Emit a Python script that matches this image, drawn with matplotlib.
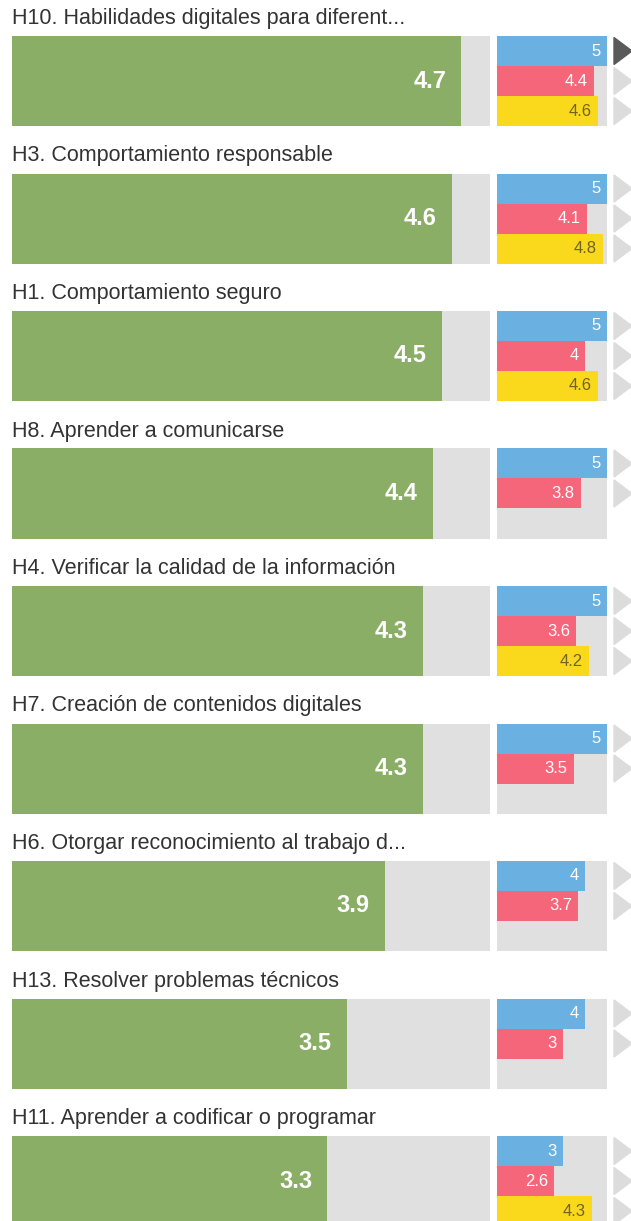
import numpy as np
import matplotlib
matplotlib.use("Agg")
import matplotlib.pyplot as plt
from matplotlib.patches import Polygon

# ---------------- datos ----------------
titles = [
    "H10. Habilidades digitales para diferent...",
    "H3. Comportamiento responsable",
    "H1. Comportamiento seguro",
    "H8. Aprender a comunicarse",
    "H4. Verificar la calidad de la información",
    "H7. Creación de contenidos digitales",
    "H6. Otorgar reconocimiento al trabajo d...",
    "H13. Resolver problemas técnicos",
    "H11. Aprender a codificar o programar",
]
main_vals = [4.7, 4.6, 4.5, 4.4, 4.3, 4.3, 3.9, 3.5, 3.3]
blue_vals = [5, 5, 5, 5, 5, 5, 4, 4, 3]
red_vals = [4.4, 4.1, 4, 3.8, 3.6, 3.5, 3.7, 3, 2.6]
yellow_vals = [4.6, 4.8, 4.6, None, 4.2, None, None, None, 4.3]

# ---------------- estilo ----------------
W, H = 631, 1221
GREEN = "#8aae65"
BLUE = "#6ab1e1"
RED = "#f5667a"
YELLOW = "#fad81c"
GREY = "#e0e0e0"
font = ["Liberation Sans", "DejaVu Sans"]

fig = plt.figure(figsize=(W / 100, H / 100), dpi=100)


def px_axes(x0, y0, w, h):
    # y0 medido desde arriba, en pixeles
    ax = fig.add_axes([x0 / W, 1 - (y0 + h) / H, w / W, h / H])
    ax.set_axis_off()
    return ax


def fmt(v):
    return f"{v:g}"


step = 137.5
for i, t in enumerate(titles):
    top = i * step
    fig.text(12 / W, 1 - (top + 18.5) / H, t, fontsize=15.5, family=font,
             color="#333333", va="center", ha="left")

    bar_top = top + 36
    # barra grande
    ax = px_axes(12, bar_top, 478, 90)
    ax.set_xlim(0, 5)
    ax.set_ylim(0, 1)
    ax.barh(0.5, 5, height=1, color=GREY, left=0)
    ax.barh(0.5, main_vals[i], height=1, color=GREEN)
    ax.annotate(fmt(main_vals[i]), (main_vals[i], 0.5), xytext=(-11, 0),
                textcoords="offset points", ha="right", va="center",
                color="white", fontsize=17, fontweight="bold", family=font)

    # barras pequeñas
    ax2 = px_axes(497, bar_top, 110, 90)
    ax2.set_xlim(0, 5)
    ax2.set_ylim(3, 0)
    ax2.barh(1.5, 5, height=3, color=GREY)
    rows = [(blue_vals[i], BLUE, "white"), (red_vals[i], RED, "white"),
            (yellow_vals[i], YELLOW, "#6e6425")]
    ax3 = px_axes(608, bar_top, 23, 90)
    ax3.set_xlim(608, 631)
    ax3.set_ylim(90, 0)
    for j, (v, c, tc) in enumerate(rows):
        if v is None:
            continue
        ax2.barh(j + 0.5, v, height=1, color=c)
        ax2.annotate(fmt(v), (v, j + 0.5), xytext=(-4.5, 0),
                     textcoords="offset points", ha="right", va="center",
                     color=tc, fontsize=12, family=font)
        tri_c = "#5a5a5a" if (i == 0 and j == 0) else "#dcdcdc"
        cy = 15 + 30 * j
        ax3.add_patch(Polygon([[614, cy - 13.5], [632, cy], [614, cy + 13.5]],
                              closed=True, color=tri_c, clip_on=False))

fig.savefig("out.png", dpi=100, facecolor="white")
